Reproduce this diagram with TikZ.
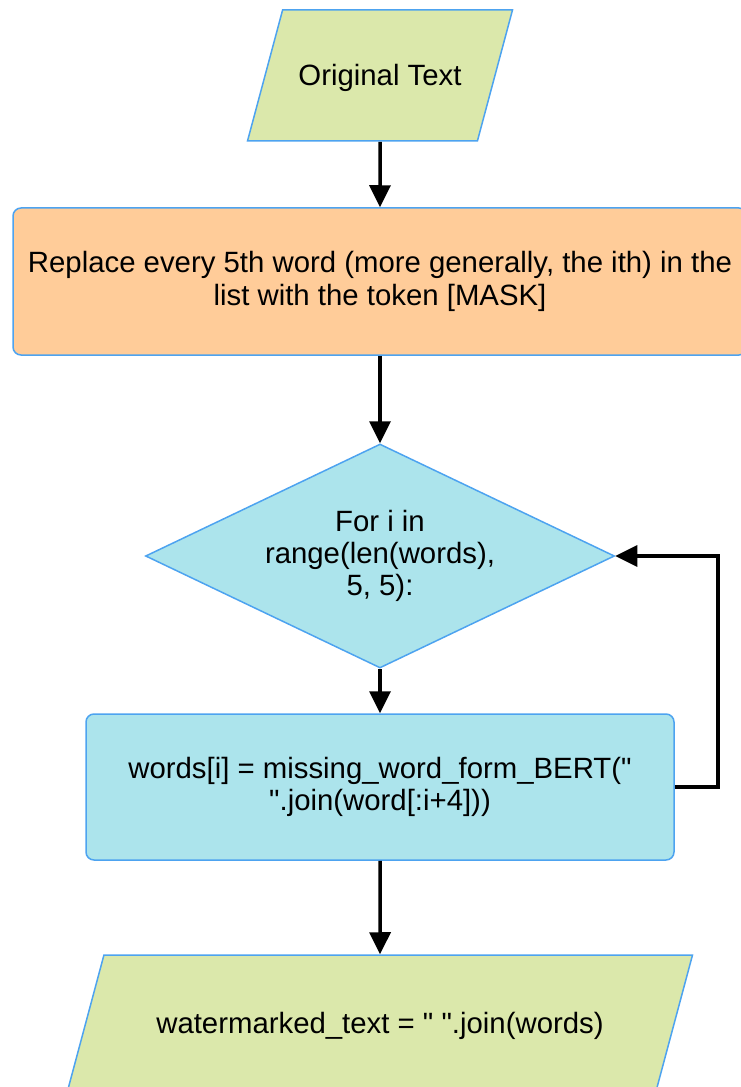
\documentclass[tikz,border=0pt]{standalone}
\usepackage{fontspec}
\setmainfont{Liberation Sans}[Ligatures=TeXOff]
\usetikzlibrary{shapes.geometric,arrows.meta}
\definecolor{iogreen}{HTML}{DBE8AB}
\definecolor{steporange}{HTML}{FFCC99}
\definecolor{loopblue}{HTML}{ACE4EC}
\definecolor{edgeblue}{HTML}{4DA3F0}
\tikzset{
	base/.style={draw=edgeblue, line width=0.03cm, font=\fontsize{16.7}{18.4}\selectfont, align=center, inner sep=0pt},
	io/.style={base, fill=iogreen, trapezium, trapezium left angle=75, trapezium right angle=105, trapezium stretches body=true},
	proc/.style={base, rectangle, rounded corners=0.16cm},
	cond/.style={base, fill=loopblue, diamond, aspect=2.1},
	flow/.style={line width=0.07cm, -{Triangle[length=0.44cm,width=0.42cm]}}
}
\begin{document}
\begin{tikzpicture}
			\useasboundingbox (0,0) rectangle (14.82,-21.74);
			\node[io, minimum width=5.3cm, text height=1.52cm, text depth=1.1cm] (orig) at (7.6,-1.51) {Original Text};
			\node[proc, fill=steporange, minimum width=14.68cm, minimum height=2.94cm] (replace) at (7.6,-5.63) {Replace every 5th word (more generally, the ith) in the\\ list with the token [MASK]};
			\node[cond, minimum width=9.38cm, minimum height=4.48cm] (loop) at (7.6,-11.12) {For i in\\ range(len(words),\\ 5, 5):};
			\node[proc, fill=loopblue, minimum width=11.76cm, minimum height=2.92cm] (word) at (7.6,-15.74) {words[i] = missing\_word\_form\_BERT("\\ ".join(word[:i+4]))};
			\node[io, minimum width=12.5cm, text height=1.57cm, text depth=1.15cm] (out) at (7.6,-20.46) {watermarked\_text = " ".join(words)};
			\draw[flow] (orig.south) -- (replace.north);
			\draw[flow] (replace.south) -- (loop.north);
			\draw[flow] (loop.south) -- (word.north);
			\draw[flow] (word.east) -- ++(0.86,0) |- (loop.east);
			\draw[flow] (word.south) -- (out.north);
		\end{tikzpicture}
\end{document}
